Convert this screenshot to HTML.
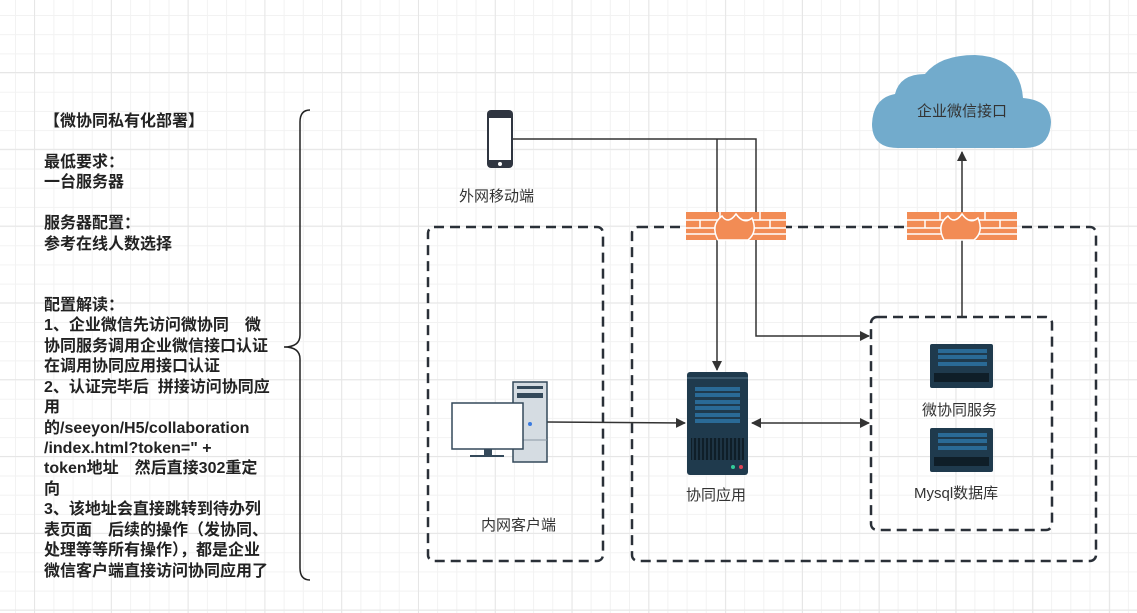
<!DOCTYPE html>
<html><head><meta charset="utf-8"><style>
body{margin:0;width:1137px;height:613px;overflow:hidden;background:#fff;
background-image:linear-gradient(#e6e6e6 1px,transparent 1px),linear-gradient(90deg,#e6e6e6 1px,transparent 1px),linear-gradient(#f2f2f2 1px,transparent 1px),linear-gradient(90deg,#f2f2f2 1px,transparent 1px);
background-size:76.8px 76.8px,76.8px 76.8px,19.2px 19.2px,19.2px 19.2px;background-position:34px 72px,34px 72px,15px 15px,15px 15px;
font-family:"Liberation Sans","Noto Sans CJK SC",sans-serif;position:relative}
.t{position:absolute;left:44px;top:112px;font-size:16px;font-weight:bold;color:#222;white-space:pre}
.t div{height:20.45px;line-height:20px}
.l{position:absolute;font-size:15px;color:#333;white-space:nowrap}
</style></head><body>
<div class="t"><div>【微协同私有化部署】</div><div></div><div>最低要求：</div><div>一台服务器</div><div></div><div>服务器配置：</div><div>参考在线人数选择</div><div></div><div></div><div>配置解读：</div><div>1、企业微信先访问微协同　微</div><div>协同服务调用企业微信接口认证</div><div>在调用协同应用接口认证</div><div>2、认证完毕后  拼接访问协同应</div><div>用</div><div>的/seeyon/H5/collaboration</div><div>/index.html?token=" +</div><div>token地址　然后直接302重定</div><div>向</div><div>3、该地址会直接跳转到待办列</div><div>表页面　后续的操作（发协同、</div><div>处理等等所有操作），都是企业</div><div>微信客户端直接访问协同应用了</div></div>
<svg width="1137" height="613" style="position:absolute;left:0;top:0">
<defs><marker id="a" markerWidth="10" markerHeight="10" refX="9" refY="5" orient="auto" markerUnits="userSpaceOnUse"><path d="M0,0L10,5L0,10z" fill="#333"/></marker>
<marker id="b" markerWidth="10" markerHeight="10" refX="1" refY="5" orient="auto" markerUnits="userSpaceOnUse"><path d="M10,0L0,5L10,10z" fill="#333"/></marker></defs>
<path d="M310,110 Q300,110 300,122 L300,335 Q300,347 284,347 Q300,347 300,359 L300,568 Q300,580 310,580" fill="none" stroke="#222" stroke-width="1.5"/>
<g fill="none" stroke="#2a3038" stroke-width="2.5" stroke-dasharray="10,6">
<rect x="428" y="227" width="175" height="334" rx="6"/>
<rect x="632" y="227" width="464" height="334" rx="6"/>
<rect x="871" y="317" width="181" height="213" rx="6"/>
</g>
<path d="M898,148 Q872,148 872,124 Q873,98 895,94 Q900,74 925,74 Q940,55 975,55 Q1020,57 1023,98 Q1050,100 1051,122 Q1050,148 1025,148 Z" fill="#72abcc"/>
<text x="962" y="116" font-size="15" text-anchor="middle" fill="#333" font-family="Liberation Sans,Noto Sans CJK SC,sans-serif">企业微信接口</text>
<rect x="487" y="110" width="26" height="58" rx="4" fill="#2f3540"/>
<rect x="489" y="118" width="22" height="42" fill="#fff"/>
<circle cx="500" cy="164" r="2" fill="#fff"/>
<g stroke="#333" stroke-width="1.5" fill="none">
<path d="M513,139 L756,139 L756,336 L869,336" marker-end="url(#a)"/>
<path d="M717,139 L717,370" marker-end="url(#a)"/>
<path d="M962,317 L962,152" marker-end="url(#a)"/>
<path d="M547,422 L685,423" marker-end="url(#a)"/>
<path d="M752,423 L869,423" marker-start="url(#b)" marker-end="url(#a)"/>
</g>
<g fill="#f28c55">
<rect x="686" y="212" width="100" height="28"/>
<rect x="907" y="212" width="110" height="28"/>
</g>
<g stroke="#fff" stroke-width="1.5">
<path d="M686,220H786M686,228H786M686,234H786M907,220H1017M907,228H1017M907,234H1017"/>
<path d="M720,212V220M760,212V220M700,220V228M770,220V228M940,212V220M985,212V220M925,220V228M1000,220V228"/>
</g>
<path d="M718,240 Q710,225 722,216 Q728,225 736,214 Q744,225 752,218 Q758,232 748,240Z" fill="#f28c55" stroke="#fff" stroke-width="1.5"/>
<path d="M944,240 Q936,225 948,216 Q954,225 962,214 Q970,225 978,218 Q984,232 974,240Z" fill="#f28c55" stroke="#fff" stroke-width="1.5"/>
<rect x="687" y="372" width="61" height="103" rx="3" fill="#1f3a4d"/>
<line x1="687" y1="378" x2="748" y2="378" stroke="#5a7a90"/>
<g fill="#2a6a96"><rect x="695" y="387" width="45" height="4"/><rect x="695" y="393" width="45" height="4"/><rect x="695" y="400" width="45" height="4"/><rect x="695" y="406" width="45" height="4"/><rect x="695" y="413" width="45" height="4"/><rect x="695" y="419" width="45" height="4"/></g>
<rect x="691" y="438" width="53" height="22" fill="#0f1e28"/>
<path d="M693,438V460M697,438V460M701,438V460M705,438V460M709,438V460M713,438V460M717,438V460M721,438V460M725,438V460M729,438V460M733,438V460M737,438V460M741,438V460" stroke="#2c4b60" stroke-width="1"/>
<circle cx="733" cy="467" r="2" fill="#3c9"/><circle cx="741" cy="467" r="2" fill="#d45"/>
<g>
<rect x="930" y="344" width="63" height="44" rx="2" fill="#1f3a4d"/>
<g fill="#2a6a96"><rect x="938" y="349" width="49" height="4"/><rect x="938" y="355" width="49" height="4"/><rect x="938" y="362" width="49" height="4"/></g>
<rect x="934" y="373" width="55" height="9" fill="#0f1e28"/>
<rect x="930" y="428" width="63" height="44" rx="2" fill="#1f3a4d"/>
<g fill="#2a6a96"><rect x="938" y="433" width="49" height="4"/><rect x="938" y="439" width="49" height="4"/><rect x="938" y="446" width="49" height="4"/></g>
<rect x="934" y="457" width="55" height="9" fill="#0f1e28"/>
</g>
<rect x="513" y="382" width="34" height="80" fill="#d5dce2" stroke="#34495a" stroke-width="1.5"/>
<rect x="517" y="386" width="26" height="3" fill="#34495a"/><rect x="517" y="393" width="26" height="5" fill="#34495a"/>
<line x1="513" y1="440" x2="547" y2="440" stroke="#8a98a4"/>
<circle cx="530" cy="424" r="2" fill="#3a7be0"/>
<rect x="452" y="403" width="71" height="46" fill="#fff" stroke="#34495a" stroke-width="1.5"/>
<rect x="484" y="449" width="8" height="6" fill="#34495a"/><rect x="470" y="455" width="34" height="2" fill="#34495a"/>
</svg>
<div class="l" style="left:459px;top:185px">外网移动端</div>
<div class="l" style="left:481px;top:514px">内网客户端</div>
<div class="l" style="left:686px;top:484px">协同应用</div>
<div class="l" style="left:922px;top:399px">微协同服务</div>
<div class="l" style="left:914px;top:482px">Mysql数据库</div>
</body></html>
